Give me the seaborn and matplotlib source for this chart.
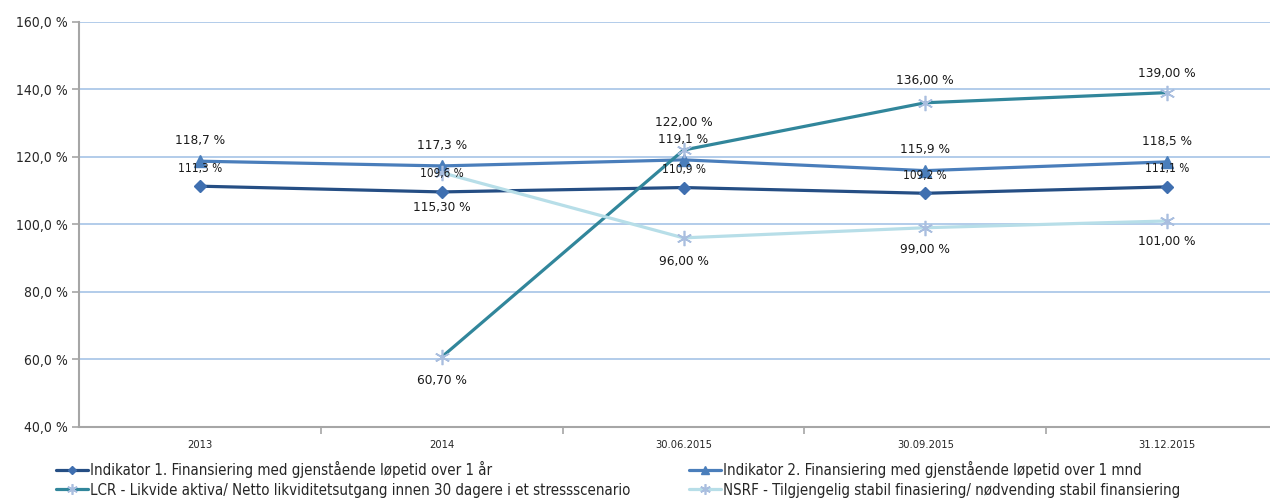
import numpy as np
import pandas as pd
import matplotlib
matplotlib.use("Agg")
import matplotlib.pyplot as plt
import seaborn as sns
from matplotlib.ticker import FixedLocator, FuncFormatter

categories = ["2013", "2014", "30.06.2015", "30.09.2015", "31.12.2015"]
ind1 = [111.3, 109.6, 110.9, 109.2, 111.1]
ind2 = [118.7, 117.3, 119.1, 115.9, 118.5]
lcr = [np.nan, 60.7, 122.0, 136.0, 139.0]
nsfr = [np.nan, 115.3, 96.0, 99.0, 101.0]

names = [
    "Indikator 1. Finansiering med gjenstående løpetid over 1 år",
    "Indikator 2. Finansiering med gjenstående løpetid over 1 mnd",
    "LCR - Likvide aktiva/ Netto likviditetsutgang innen 30 dagere i et stressscenario",
    "NSRF - Tilgjengelig stabil finasiering/ nødvending stabil finansiering",
]

sns.set_style("white")
plt.rcParams["font.family"] = ["DejaVu Sans"]

fig = plt.figure(figsize=(12.70, 4.99), dpi=100)
ax = fig.add_axes([79 / 1270, 72 / 499, 1209 / 1270, 405.3 / 499])

x = np.arange(len(categories))
star = (6, 2, 0)
styles = [
    dict(color="#254E84", marker="D", ms=6, mfc="#3F6FB0", mec="#3F6FB0"),
    dict(color="#4A7EBB", marker="^", ms=9, mfc="#4A7EBB", mec="#4A7EBB"),
    dict(color="#31869B", marker=star, ms=11, mfc="none", mec="#A9BEDF", mew=1.2),
    dict(color="#B7DEE8", marker=star, ms=11, mfc="none", mec="#A9BEDF", mew=1.2),
]
series = [ind1, ind2, lcr, nsfr]

for vals, name, st in zip(series, names, styles):
    df = pd.DataFrame({"x": x, "y": vals}).dropna()
    sns.lineplot(data=df, x="x", y="y", ax=ax, lw=2.3, label=name,
                 color=st["color"], marker=st["marker"], markersize=st["ms"],
                 markerfacecolor=st["mfc"], markeredgecolor=st["mec"],
                 markeredgewidth=st.get("mew", 1))

def fmt1(v):
    return f"{v:.1f} %".replace(".", ",")

def fmt2(v):
    return f"{v:.2f} %".replace(".", ",")

lab_font = dict(fontsize=9.7, family="DejaVu Sans", stretch="condensed", color="#1a1a1a")
for i, v in enumerate(ind2):
    ax.annotate(fmt1(v), (x[i], v), xytext=(0, 15), textcoords="offset points",
                ha="center", va="center", **lab_font)
for i, v in enumerate(ind1):
    ax.annotate(fmt1(v), (x[i], v), xytext=(0, 13), textcoords="offset points",
                ha="center", va="center", fontsize=8.5, family="DejaVu Sans",
                stretch="condensed", color="#1a1a1a")
lcr_off = [None, -17, 20, 16, 14]
for i, v in enumerate(lcr):
    if np.isnan(v):
        continue
    ax.annotate(fmt2(v), (x[i], v), xytext=(0, lcr_off[i]), textcoords="offset points",
                ha="center", va="center", **lab_font)
nsfr_off = [None, -25, -17, -16, -15]
for i, v in enumerate(nsfr):
    if np.isnan(v):
        continue
    ax.annotate(fmt2(v), (x[i], v), xytext=(0, nsfr_off[i]), textcoords="offset points",
                ha="center", va="center", **lab_font)

ax.set_xlim(-0.5, len(categories) - 0.5)
ax.set_ylim(40, 160)
ax.set_yticks(np.arange(40, 161, 20))
ax.yaxis.set_major_formatter(FuncFormatter(lambda v, p: fmt1(v)))
ax.set_xticks(x)
ax.set_xticklabels(categories)
ax.xaxis.set_minor_locator(FixedLocator(np.arange(0.5, len(categories) - 0.5, 1)))
ax.tick_params(axis="x", which="major", bottom=True, length=0, pad=9, labelsize=8)
ax.tick_params(axis="x", which="minor", bottom=True, length=5, width=1.2,
               color="#A6A6A6", direction="out")
ax.tick_params(axis="y", which="major", left=True, length=5, width=1.2,
               color="#A6A6A6", labelsize=10, pad=3)
for lab in ax.get_xticklabels() + ax.get_yticklabels():
    lab.set_fontstretch("condensed")
ax.set_xlabel("")
ax.set_ylabel("")

ax.grid(axis="y", color="#9EBFE4", lw=1.1)
ax.grid(axis="x", visible=False)
ax.set_axisbelow(True)
for s in ["top", "right"]:
    ax.spines[s].set_visible(False)
for s in ["left", "bottom"]:
    ax.spines[s].set_color("#A6A6A6")
    ax.spines[s].set_linewidth(1.5)

handles, labels = ax.get_legend_handles_labels()
if ax.get_legend():
    ax.get_legend().remove()
leg_kw = dict(ncol=1, loc="upper left", frameon=False,
              prop=dict(size=10.8, family="DejaVu Sans", stretch="condensed"),
              handlelength=2.15, handletextpad=0.12, markerscale=0.7,
              labelspacing=0.3, borderaxespad=0, borderpad=0)
leg1 = fig.legend([handles[0], handles[2]], [labels[0], labels[2]],
                  bbox_to_anchor=(56 / 1270, 1 - 461 / 499), **leg_kw)
leg2 = fig.legend([handles[1], handles[3]], [labels[1], labels[3]],
                  bbox_to_anchor=(689 / 1270, 1 - 461 / 499), **leg_kw)

fig.savefig("out.png", dpi=100)
